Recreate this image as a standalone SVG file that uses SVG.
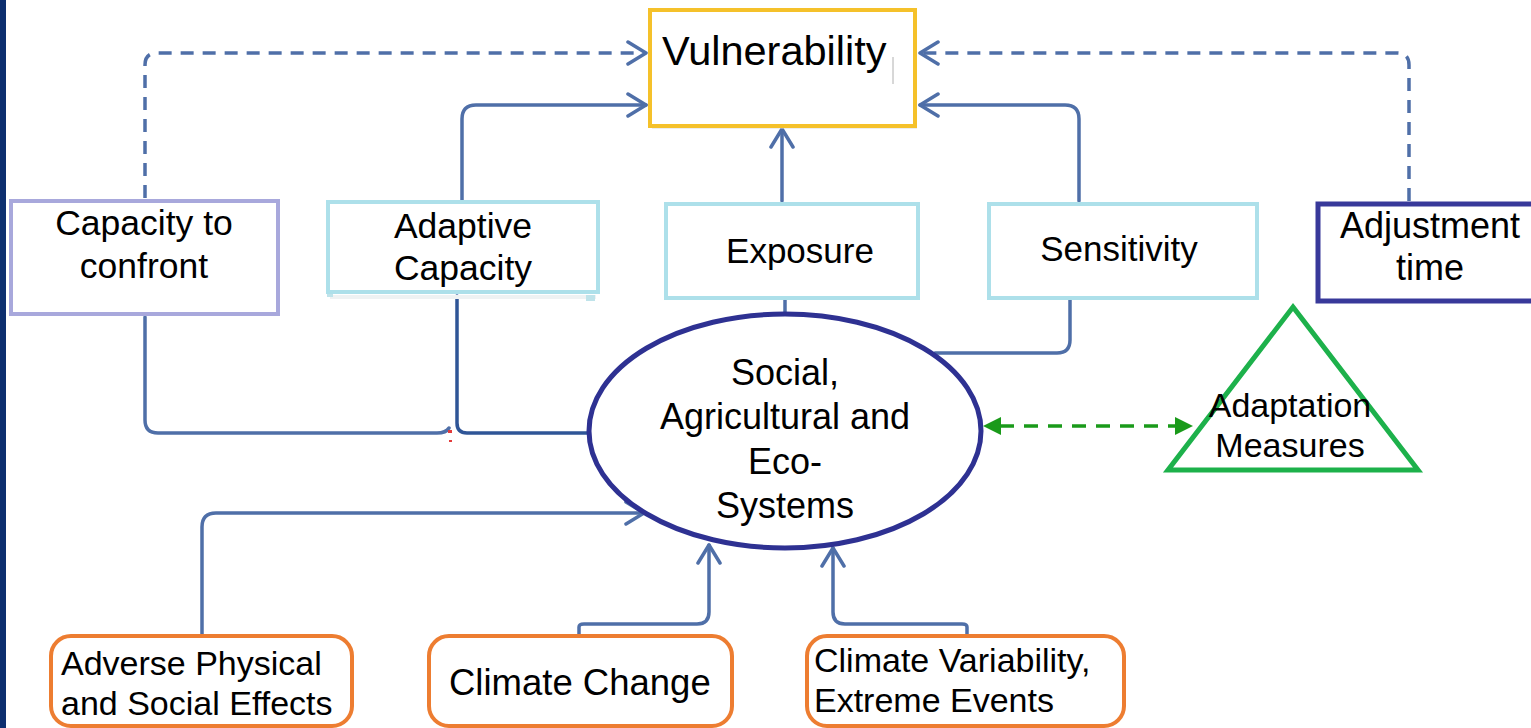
<svg xmlns="http://www.w3.org/2000/svg" width="1531" height="728" viewBox="0 0 1531 728">
<style>
text{font-family:"Liberation Sans",Arial,sans-serif;fill:#000;}
.c{text-anchor:middle;}
.box{fill:#fff;}
.con{fill:none;stroke:#4f6fa8;stroke-width:3.5;stroke-linecap:round;stroke-linejoin:round;}
.dash{stroke-dasharray:13 9;stroke-linecap:butt;}
.orange{fill:#fff;stroke:#ed7d31;stroke-width:4;}
.lb{fill:#fff;stroke:#ade0ea;stroke-width:4;}
</style>
<defs>
<marker id="chev" markerUnits="userSpaceOnUse" viewBox="0 0 22 26" refX="20" refY="13" markerWidth="22" markerHeight="26" orient="auto">
<path d="M2,2 L20,13 L2,24" fill="none" stroke="#4f6fa8" stroke-width="3.5" stroke-linecap="round" stroke-linejoin="round"/>
</marker>
<marker id="gtri" markerUnits="userSpaceOnUse" viewBox="0 0 18 18" refX="17" refY="9" markerWidth="18" markerHeight="18" orient="auto-start-reverse">
<path d="M0,0 L18,9 L0,18 Z" fill="#1a9a1a"/>
</marker>
</defs>
<rect x="0" y="0" width="1531" height="728" fill="#fff"/>
<rect x="0" y="0" width="6" height="728" fill="#0d2f6f"/>

<g id="connectors">
<path class="con dash" d="M145,198 V65 Q145,53 157,53 H646" marker-end="url(#chev)"/>
<path class="con dash" d="M1409,201 V65 Q1409,53 1397,53 H920" marker-end="url(#chev)"/>
<path class="con" d="M462,200 V119 Q462,105 476,105 H646" marker-end="url(#chev)"/>
<path class="con" d="M1079,201 V119 Q1079,105 1065,105 H920" marker-end="url(#chev)"/>
<path class="con" d="M782,201 V129" marker-end="url(#chev)"/>
<path class="con" d="M145,317 V420 Q145,433 158,433 H437 Q446,433 449,428"/>
<path class="con" style="stroke:#2f5597" d="M457,296 V423 Q457,433 467,433 H590"/>
<path class="con" d="M785,313 V300"/>
<path class="con" d="M1070,300 V340 Q1070,353 1057,353 H935"/>
<path class="con" d="M202,635 V527 Q202,513 216,513 H644" marker-end="url(#chev)"/>
<path class="con" d="M579,635 V627 Q579,624 584,624 H697 Q709,624 709,612 V545" marker-end="url(#chev)"/>
<path class="con" d="M967,635 V627 Q967,624 962,624 H845 Q833,624 833,612 V548" marker-end="url(#chev)"/>
<path d="M1000,426 H1175" fill="none" stroke="#1a9a1a" stroke-width="3.5" stroke-dasharray="14 10"/>
<path d="M984,426 H1000" fill="none" stroke="#1a9a1a" stroke-width="0" marker-start="url(#gtri)"/>
<path d="M1175,426 H1192" fill="none" stroke="#1a9a1a" stroke-width="0" marker-end="url(#gtri)"/>
<rect x="448" y="430" width="4" height="3" fill="#e23b3b"/>
<rect x="449" y="440" width="3" height="2" fill="#e23b3b"/>
</g>

<g id="vulnerability">
<rect x="652" y="12" width="265" height="117" fill="#dcdcdc" opacity="0.5"/>
<rect x="650" y="10" width="265" height="116" class="box" stroke="#f5c12a" stroke-width="4"/>
<text x="662" y="65" font-size="41.5">Vulnerability</text>
<line x1="893" y1="57" x2="893" y2="84" stroke="#b0b0b0" stroke-width="1"/>
</g>

<g id="capacity-to-confront">
<rect x="11" y="201" width="267" height="113" class="box" stroke="#a8a8dc" stroke-width="4"/>
<text class="c" x="144" y="235" font-size="35.5">Capacity to</text>
<text class="c" x="144" y="278" font-size="35.5">confront</text>
</g>

<g id="adaptive-capacity">
<line x1="330" y1="297" x2="596" y2="297" stroke="#eef2f3" stroke-width="4"/>
<rect x="327" y="293" width="6" height="4" fill="#bfe3ea"/>
<rect x="586" y="295" width="9" height="6" fill="#bfe3ea"/>
<rect x="328" y="202" width="270" height="90" class="lb" stroke="#b6e0e4"/>
<text class="c" x="463" y="238" font-size="35.5">Adaptive</text>
<text class="c" x="463" y="280" font-size="35.5">Capacity</text>
</g>

<g id="exposure">
<rect x="666" y="204" width="252" height="94" class="lb"/>
<text class="c" x="800" y="263" font-size="35">Exposure</text>
</g>

<g id="sensitivity">
<rect x="989" y="204" width="268" height="94" class="lb"/>
<text class="c" x="1119" y="261" font-size="35">Sensitivity</text>
</g>

<g id="adjustment-time">
<rect x="1318" y="204" width="240" height="97" class="box" stroke="#38399a" stroke-width="5"/>
<text class="c" x="1430" y="238" font-size="36">Adjustment</text>
<text class="c" x="1430" y="280" font-size="36">time</text>
</g>

<g id="systems">
<ellipse cx="785" cy="431" rx="196" ry="117" class="box" stroke="#2e3192" stroke-width="5"/>
<text class="c" x="785" y="385" font-size="36">Social,</text>
<text class="c" x="785" y="429" font-size="36">Agricultural and</text>
<text class="c" x="785" y="474" font-size="36">Eco-</text>
<text class="c" x="785" y="518" font-size="36">Systems</text>
</g>

<g id="adaptation-measures">
<polygon points="1293,307 1418,470 1168,470" fill="#fff" stroke="#1db14b" stroke-width="5" stroke-linejoin="miter"/>
<text class="c" x="1290" y="417" font-size="34">Adaptation</text>
<text class="c" x="1290" y="457" font-size="34">Measures</text>
</g>

<g id="adverse-effects">
<rect x="51" y="636" width="301" height="90" rx="20" class="orange"/>
<text x="61" y="675" font-size="34">Adverse Physical</text>
<text x="61" y="715" font-size="34">and Social Effects</text>
</g>

<g id="climate-change">
<rect x="429" y="636" width="303" height="90" rx="20" class="orange"/>
<text x="449" y="695" font-size="36.5">Climate Change</text>
</g>

<g id="climate-variability">
<rect x="807" y="636" width="317" height="90" rx="20" class="orange"/>
<text x="814" y="672" font-size="34">Climate Variability,</text>
<text x="814" y="712" font-size="34">Extreme Events</text>
</g>
</svg>
